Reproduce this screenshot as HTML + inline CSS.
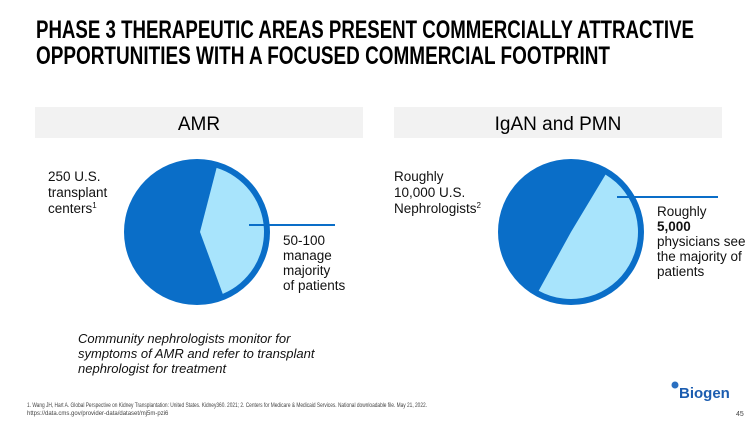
<!DOCTYPE html>
<html><head><meta charset="utf-8"><style>
body{margin:0;background:#fff}
svg{display:block;font-family:"Liberation Sans",sans-serif}
</style></head><body>
<svg width="750" height="421" viewBox="0 0 750 421">
<g font-family="'Liberation Sans Narrow','Liberation Sans',sans-serif" font-weight="bold" font-size="25" fill="#000">
<text x="36" y="38" textLength="658" lengthAdjust="spacingAndGlyphs">PHASE 3 THERAPEUTIC AREAS PRESENT COMMERCIALLY ATTRACTIVE</text>
<text x="36" y="64" textLength="574" lengthAdjust="spacingAndGlyphs">OPPORTUNITIES WITH A FOCUSED COMMERCIAL FOOTPRINT</text>
</g>
<rect x="35" y="107" width="328" height="31" fill="#f2f2f2"/>
<text x="199" y="130" font-size="19" text-anchor="middle">AMR</text>
<rect x="394" y="107" width="328" height="31" fill="#f2f2f2"/>
<text x="558" y="130" font-size="19" text-anchor="middle">IgAN and PMN</text>
<g id="pies"></g>
<line x1="249" y1="225" x2="335" y2="225" stroke="#0a6ec8" stroke-width="2"/>
<line x1="617" y1="197" x2="718" y2="197" stroke="#0a6ec8" stroke-width="2"/>
<g font-size="13.5" fill="#111">
<text x="48" y="181">250 U.S.</text><text x="48" y="197">transplant</text><text x="48" y="213">centers<tspan font-size="8" dy="-5">1</tspan></text>
</g>
<g font-size="13.5" fill="#111">
<text x="283" y="245">50-100</text><text x="283" y="260">manage</text><text x="283" y="275">majority</text><text x="283" y="290">of patients</text>
</g>
<g font-size="13.5" fill="#111">
<text x="394" y="181">Roughly</text><text x="394" y="197">10,000 U.S.</text><text x="394" y="213">Nephrologists<tspan font-size="8" dy="-5">2</tspan></text>
</g>
<g font-size="13.5" fill="#111">
<text x="657" y="216">Roughly</text><text x="657" y="231" font-weight="bold">5,000</text><text x="657" y="246">physicians see</text><text x="657" y="261">the majority of</text><text x="657" y="276">patients</text>
</g>
<g font-size="13" font-style="italic" fill="#111">
<text x="78" y="343">Community nephrologists monitor for</text><text x="78" y="358">symptoms of AMR and refer to transplant</text><text x="78" y="373">nephrologist for treatment</text>
</g>
<g font-size="6" fill="#444">
<text x="27" y="407" textLength="400" lengthAdjust="spacingAndGlyphs">1. Wang JH, Hart A. Global Perspective on Kidney Transplantation: United States. Kidney360. 2021; 2. Centers for Medicare &amp; Medicaid Services. National downloadable file. May 21, 2022.</text>
<text x="27" y="415">https://data.cms.gov/provider-data/dataset/mj5m-pzi6</text>
</g>
<g>
<circle cx="675" cy="385" r="3.5" fill="#2a6fc0"/>
<text x="679" y="398" font-size="15" font-weight="bold" fill="#1c5db0" font-family="'Liberation Sans Narrow','Liberation Sans',sans-serif">Biogen</text>
</g>
<text x="736" y="416" font-size="7" fill="#444">45</text>
</svg>
<script>
const pieNames = ['amr', 'igan'];
const lightShares = [0.39, 0.494];
const startAngles = [17, 31];
const centersX = [197, 571];
const vertexOffsets = [3, 0];
const g = document.getElementById('pies');
const NS = 'http://www.w3.org/2000/svg';
function pt(cx, cy, r, deg) { const a = deg * Math.PI / 180; return [cx + r * Math.sin(a), cy - r * Math.cos(a)]; }
pieNames.forEach((n, i) => {
  const cx = centersX[i], cy = 232, R = 73, r = 67;
  const c = document.createElementNS(NS, 'circle');
  c.setAttribute('cx', cx); c.setAttribute('cy', cy); c.setAttribute('r', R); c.setAttribute('fill', '#0a6ec8');
  
  
  g.appendChild(c);
  const a0 = startAngles[i], a1 = a0 + lightShares[i] * 360;
  const p0 = pt(cx, cy, r, a0), p1 = pt(cx, cy, r, a1);
  const p = document.createElementNS(NS, 'path');
  p.setAttribute('d', `M${cx + vertexOffsets[i]},${cy}L${p0[0]},${p0[1]}A${r},${r} 0 ${a1 - a0 > 180 ? 1 : 0} 1 ${p1[0]},${p1[1]}Z`);
  p.setAttribute('fill', '#a8e4fc');
  
  
  g.appendChild(p);
});
</script>
</body></html>
